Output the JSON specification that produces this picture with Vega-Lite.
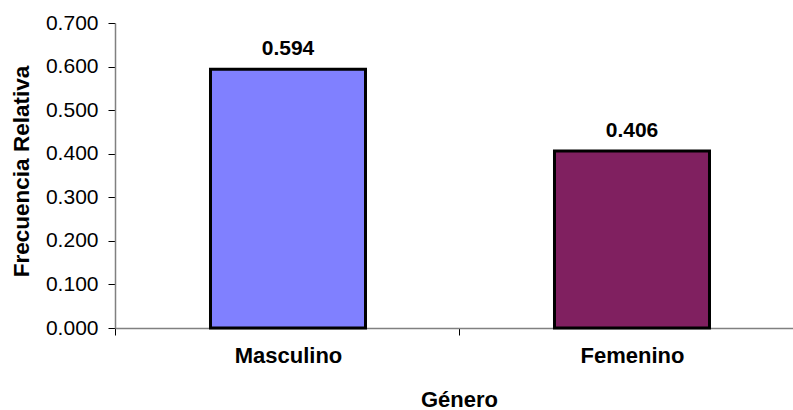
{
  "$schema": "https://vega.github.io/schema/vega-lite/v6.json",
  "autosize": "none",
  "width": 678,
  "height": 305,
  "padding": {"left": 115, "top": 23, "right": 0, "bottom": 82},
  "background": "white",
  "config": {"view": {"stroke": null}, "font": "Liberation Sans"},
  "data": {"values": [
    {"genero": "Masculino", "frecuencia": 0.594},
    {"genero": "Femenino", "frecuencia": 0.406}
  ]},
  "encoding": {
    "x": {
      "field": "genero", "type": "nominal", "sort": null,
      "scale": {"paddingInner": 0.5494, "paddingOuter": 0.26017, "align": 0.5335, "round": false},
      "axis": {
        "title": "Género", "titleFont": "Liberation Sans", "titleFontSize": 22, "titleFontWeight": "bold", "titleColor": "black",
        "titleX": 344, "titleY": 78, "titleAlign": "center", "titleBaseline": "alphabetic",
        "labelAngle": 0, "labelFont": "Liberation Sans", "labelFontSize": 22, "labelFontWeight": "bold", "labelColor": "black",
        "labelPadding": 10, "labelBaseline": "top",
        "tickOffset": -173, "labelOffset": 173, "tickSize": 7, "tickColor": "#000000", "tickWidth": 1,
        "domainColor": "#808080", "domainWidth": 1.5, "grid": false
      }
    },
    "y": {
      "field": "frecuencia", "type": "quantitative",
      "scale": {"domain": [0, 0.7], "nice": false},
      "axis": {
        "title": "Frecuencia Relativa", "titleFont": "Liberation Sans", "titleFontSize": 22.5, "titleFontWeight": "bold", "titleColor": "black",
        "titleX": -94, "titleY": 148, "titleAngle": -90, "titleAlign": "center", "titleBaseline": "middle",
        "values": [0, 0.1, 0.2, 0.3, 0.4, 0.5, 0.6, 0.7], "format": ".3f",
        "labelFont": "Liberation Sans", "labelFontSize": 21, "labelColor": "black", "labelPadding": 10,
        "tickSize": 7, "tickColor": "#000000", "tickWidth": 1,
        "domainColor": "#808080", "domainWidth": 1.5, "grid": false
      }
    }
  },
  "layer": [
    {
      "mark": {"type": "bar", "stroke": "black", "strokeWidth": 3, "strokeJoin": "miter"},
      "encoding": {
        "color": {
          "field": "genero", "type": "nominal",
          "scale": {"domain": ["Masculino", "Femenino"], "range": ["#8080FF", "#802060"]},
          "legend": null
        }
      }
    },
    {
      "mark": {"type": "text", "font": "Liberation Sans", "fontSize": 21, "fontWeight": "bold", "color": "black", "baseline": "alphabetic", "dy": -14},
      "encoding": {
        "text": {"field": "frecuencia", "type": "quantitative", "format": ".3f"}
      }
    }
  ]
}
